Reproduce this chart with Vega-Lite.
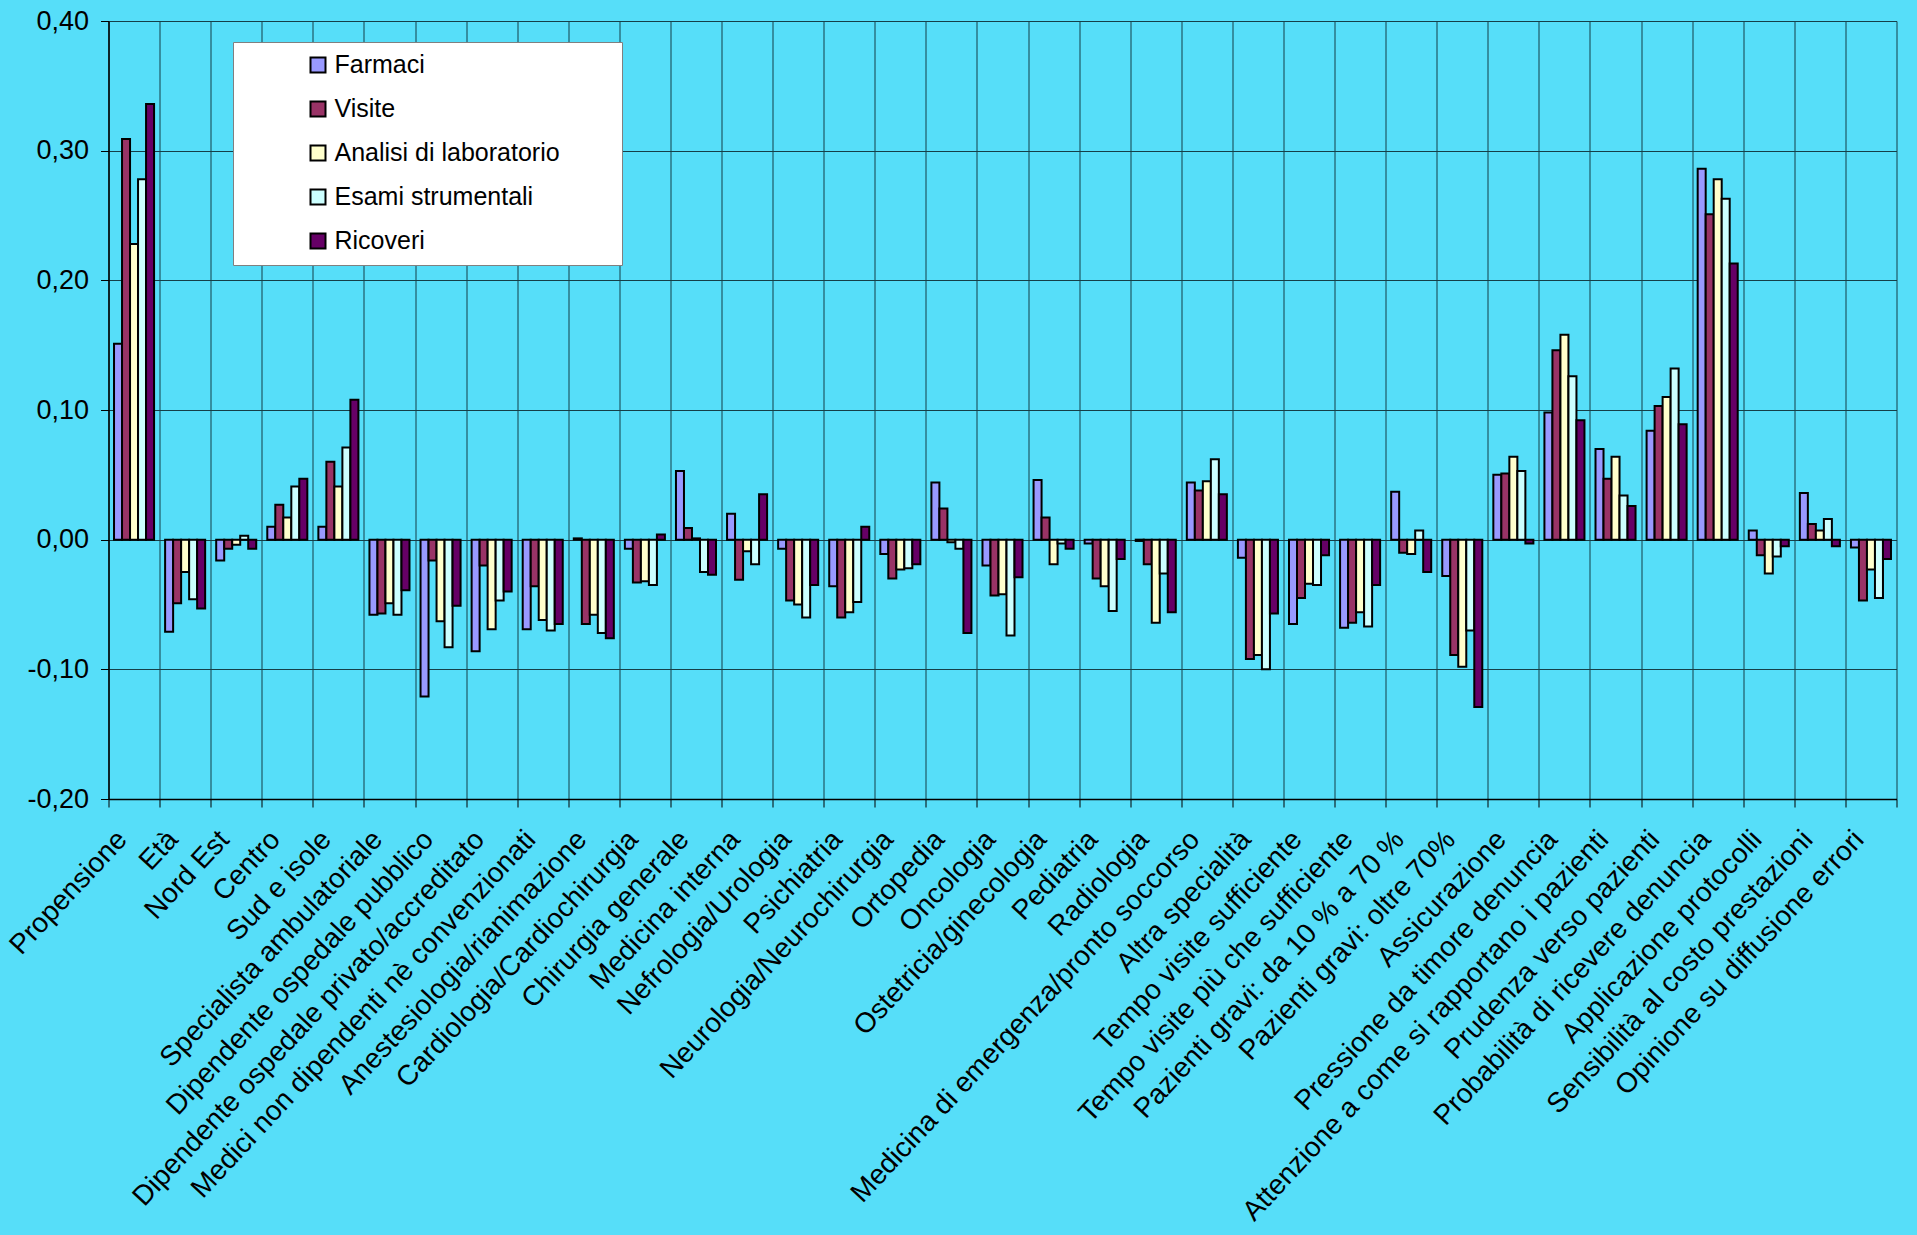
{
  "$schema": "https://vega.github.io/schema/vega-lite/v6.json",
  "autosize": {"type": "none"},
  "padding": {"left": 108.5, "top": 21, "right": 20, "bottom": 436},
  "width": 1788,
  "height": 778,
  "background": "#56DEF9",
  "config": {
    "view": {"stroke": null},
    "font": "Liberation Sans",
    "axis": {"labelFont": "Liberation Sans", "labelColor": "#000000", "domainColor": "#000000", "tickColor": "#000000", "gridColor": "#153f48", "gridWidth": 1, "gridOpacity": 1}
  },
  "data": {
    "values": [
      {"c":"Propensione","s":"Farmaci","v":0.151},{"c":"Propensione","s":"Visite","v":0.309},{"c":"Propensione","s":"Analisi di laboratorio","v":0.228},{"c":"Propensione","s":"Esami strumentali","v":0.278},{"c":"Propensione","s":"Ricoveri","v":0.336},
      {"c":"Età","s":"Farmaci","v":-0.071},{"c":"Età","s":"Visite","v":-0.049},{"c":"Età","s":"Analisi di laboratorio","v":-0.025},{"c":"Età","s":"Esami strumentali","v":-0.046},{"c":"Età","s":"Ricoveri","v":-0.053},
      {"c":"Nord Est","s":"Farmaci","v":-0.016},{"c":"Nord Est","s":"Visite","v":-0.007},{"c":"Nord Est","s":"Analisi di laboratorio","v":-0.004},{"c":"Nord Est","s":"Esami strumentali","v":0.003},{"c":"Nord Est","s":"Ricoveri","v":-0.007},
      {"c":"Centro","s":"Farmaci","v":0.010},{"c":"Centro","s":"Visite","v":0.027},{"c":"Centro","s":"Analisi di laboratorio","v":0.017},{"c":"Centro","s":"Esami strumentali","v":0.041},{"c":"Centro","s":"Ricoveri","v":0.047},
      {"c":"Sud e isole","s":"Farmaci","v":0.010},{"c":"Sud e isole","s":"Visite","v":0.060},{"c":"Sud e isole","s":"Analisi di laboratorio","v":0.041},{"c":"Sud e isole","s":"Esami strumentali","v":0.071},{"c":"Sud e isole","s":"Ricoveri","v":0.108},
      {"c":"Specialista ambulatoriale","s":"Farmaci","v":-0.058},{"c":"Specialista ambulatoriale","s":"Visite","v":-0.057},{"c":"Specialista ambulatoriale","s":"Analisi di laboratorio","v":-0.049},{"c":"Specialista ambulatoriale","s":"Esami strumentali","v":-0.058},{"c":"Specialista ambulatoriale","s":"Ricoveri","v":-0.039},
      {"c":"Dipendente ospedale pubblico","s":"Farmaci","v":-0.121},{"c":"Dipendente ospedale pubblico","s":"Visite","v":-0.016},{"c":"Dipendente ospedale pubblico","s":"Analisi di laboratorio","v":-0.063},{"c":"Dipendente ospedale pubblico","s":"Esami strumentali","v":-0.083},{"c":"Dipendente ospedale pubblico","s":"Ricoveri","v":-0.051},
      {"c":"Dipendente ospedale privato/accreditato","s":"Farmaci","v":-0.086},{"c":"Dipendente ospedale privato/accreditato","s":"Visite","v":-0.020},{"c":"Dipendente ospedale privato/accreditato","s":"Analisi di laboratorio","v":-0.069},{"c":"Dipendente ospedale privato/accreditato","s":"Esami strumentali","v":-0.047},{"c":"Dipendente ospedale privato/accreditato","s":"Ricoveri","v":-0.040},
      {"c":"Medici non dipendenti nè convenzionati","s":"Farmaci","v":-0.069},{"c":"Medici non dipendenti nè convenzionati","s":"Visite","v":-0.036},{"c":"Medici non dipendenti nè convenzionati","s":"Analisi di laboratorio","v":-0.062},{"c":"Medici non dipendenti nè convenzionati","s":"Esami strumentali","v":-0.070},{"c":"Medici non dipendenti nè convenzionati","s":"Ricoveri","v":-0.065},
      {"c":"Anestesiologia/rianimazione","s":"Farmaci","v":0.001},{"c":"Anestesiologia/rianimazione","s":"Visite","v":-0.065},{"c":"Anestesiologia/rianimazione","s":"Analisi di laboratorio","v":-0.058},{"c":"Anestesiologia/rianimazione","s":"Esami strumentali","v":-0.072},{"c":"Anestesiologia/rianimazione","s":"Ricoveri","v":-0.076},
      {"c":"Cardiologia/Cardiochirurgia","s":"Farmaci","v":-0.007},{"c":"Cardiologia/Cardiochirurgia","s":"Visite","v":-0.033},{"c":"Cardiologia/Cardiochirurgia","s":"Analisi di laboratorio","v":-0.032},{"c":"Cardiologia/Cardiochirurgia","s":"Esami strumentali","v":-0.035},{"c":"Cardiologia/Cardiochirurgia","s":"Ricoveri","v":0.004},
      {"c":"Chirurgia generale","s":"Farmaci","v":0.053},{"c":"Chirurgia generale","s":"Visite","v":0.009},{"c":"Chirurgia generale","s":"Analisi di laboratorio","v":0.001},{"c":"Chirurgia generale","s":"Esami strumentali","v":-0.025},{"c":"Chirurgia generale","s":"Ricoveri","v":-0.027},
      {"c":"Medicina interna","s":"Farmaci","v":0.020},{"c":"Medicina interna","s":"Visite","v":-0.031},{"c":"Medicina interna","s":"Analisi di laboratorio","v":-0.009},{"c":"Medicina interna","s":"Esami strumentali","v":-0.019},{"c":"Medicina interna","s":"Ricoveri","v":0.035},
      {"c":"Nefrologia/Urologia","s":"Farmaci","v":-0.007},{"c":"Nefrologia/Urologia","s":"Visite","v":-0.047},{"c":"Nefrologia/Urologia","s":"Analisi di laboratorio","v":-0.050},{"c":"Nefrologia/Urologia","s":"Esami strumentali","v":-0.060},{"c":"Nefrologia/Urologia","s":"Ricoveri","v":-0.035},
      {"c":"Psichiatria","s":"Farmaci","v":-0.036},{"c":"Psichiatria","s":"Visite","v":-0.060},{"c":"Psichiatria","s":"Analisi di laboratorio","v":-0.056},{"c":"Psichiatria","s":"Esami strumentali","v":-0.048},{"c":"Psichiatria","s":"Ricoveri","v":0.010},
      {"c":"Neurologia/Neurochirurgia","s":"Farmaci","v":-0.011},{"c":"Neurologia/Neurochirurgia","s":"Visite","v":-0.030},{"c":"Neurologia/Neurochirurgia","s":"Analisi di laboratorio","v":-0.023},{"c":"Neurologia/Neurochirurgia","s":"Esami strumentali","v":-0.022},{"c":"Neurologia/Neurochirurgia","s":"Ricoveri","v":-0.019},
      {"c":"Ortopedia","s":"Farmaci","v":0.044},{"c":"Ortopedia","s":"Visite","v":0.024},{"c":"Ortopedia","s":"Analisi di laboratorio","v":-0.002},{"c":"Ortopedia","s":"Esami strumentali","v":-0.007},{"c":"Ortopedia","s":"Ricoveri","v":-0.072},
      {"c":"Oncologia","s":"Farmaci","v":-0.020},{"c":"Oncologia","s":"Visite","v":-0.043},{"c":"Oncologia","s":"Analisi di laboratorio","v":-0.042},{"c":"Oncologia","s":"Esami strumentali","v":-0.074},{"c":"Oncologia","s":"Ricoveri","v":-0.029},
      {"c":"Ostetricia/ginecologia","s":"Farmaci","v":0.046},{"c":"Ostetricia/ginecologia","s":"Visite","v":0.017},{"c":"Ostetricia/ginecologia","s":"Analisi di laboratorio","v":-0.019},{"c":"Ostetricia/ginecologia","s":"Esami strumentali","v":-0.003},{"c":"Ostetricia/ginecologia","s":"Ricoveri","v":-0.007},
      {"c":"Pediatria","s":"Farmaci","v":-0.003},{"c":"Pediatria","s":"Visite","v":-0.030},{"c":"Pediatria","s":"Analisi di laboratorio","v":-0.036},{"c":"Pediatria","s":"Esami strumentali","v":-0.055},{"c":"Pediatria","s":"Ricoveri","v":-0.015},
      {"c":"Radiologia","s":"Farmaci","v":-0.001},{"c":"Radiologia","s":"Visite","v":-0.019},{"c":"Radiologia","s":"Analisi di laboratorio","v":-0.064},{"c":"Radiologia","s":"Esami strumentali","v":-0.026},{"c":"Radiologia","s":"Ricoveri","v":-0.056},
      {"c":"Medicina di emergenza/pronto soccorso","s":"Farmaci","v":0.044},{"c":"Medicina di emergenza/pronto soccorso","s":"Visite","v":0.038},{"c":"Medicina di emergenza/pronto soccorso","s":"Analisi di laboratorio","v":0.045},{"c":"Medicina di emergenza/pronto soccorso","s":"Esami strumentali","v":0.062},{"c":"Medicina di emergenza/pronto soccorso","s":"Ricoveri","v":0.035},
      {"c":"Altra specialità","s":"Farmaci","v":-0.014},{"c":"Altra specialità","s":"Visite","v":-0.092},{"c":"Altra specialità","s":"Analisi di laboratorio","v":-0.089},{"c":"Altra specialità","s":"Esami strumentali","v":-0.100},{"c":"Altra specialità","s":"Ricoveri","v":-0.057},
      {"c":"Tempo visite sufficiente","s":"Farmaci","v":-0.065},{"c":"Tempo visite sufficiente","s":"Visite","v":-0.045},{"c":"Tempo visite sufficiente","s":"Analisi di laboratorio","v":-0.034},{"c":"Tempo visite sufficiente","s":"Esami strumentali","v":-0.035},{"c":"Tempo visite sufficiente","s":"Ricoveri","v":-0.012},
      {"c":"Tempo visite più che sufficiente","s":"Farmaci","v":-0.068},{"c":"Tempo visite più che sufficiente","s":"Visite","v":-0.064},{"c":"Tempo visite più che sufficiente","s":"Analisi di laboratorio","v":-0.056},{"c":"Tempo visite più che sufficiente","s":"Esami strumentali","v":-0.067},{"c":"Tempo visite più che sufficiente","s":"Ricoveri","v":-0.035},
      {"c":"Pazienti gravi: da 10 % a 70 %","s":"Farmaci","v":0.037},{"c":"Pazienti gravi: da 10 % a 70 %","s":"Visite","v":-0.010},{"c":"Pazienti gravi: da 10 % a 70 %","s":"Analisi di laboratorio","v":-0.011},{"c":"Pazienti gravi: da 10 % a 70 %","s":"Esami strumentali","v":0.007},{"c":"Pazienti gravi: da 10 % a 70 %","s":"Ricoveri","v":-0.025},
      {"c":"Pazienti gravi: oltre 70%","s":"Farmaci","v":-0.028},{"c":"Pazienti gravi: oltre 70%","s":"Visite","v":-0.089},{"c":"Pazienti gravi: oltre 70%","s":"Analisi di laboratorio","v":-0.098},{"c":"Pazienti gravi: oltre 70%","s":"Esami strumentali","v":-0.070},{"c":"Pazienti gravi: oltre 70%","s":"Ricoveri","v":-0.129},
      {"c":"Assicurazione","s":"Farmaci","v":0.050},{"c":"Assicurazione","s":"Visite","v":0.051},{"c":"Assicurazione","s":"Analisi di laboratorio","v":0.064},{"c":"Assicurazione","s":"Esami strumentali","v":0.053},{"c":"Assicurazione","s":"Ricoveri","v":-0.003},
      {"c":"Pressione da timore denuncia","s":"Farmaci","v":0.098},{"c":"Pressione da timore denuncia","s":"Visite","v":0.146},{"c":"Pressione da timore denuncia","s":"Analisi di laboratorio","v":0.158},{"c":"Pressione da timore denuncia","s":"Esami strumentali","v":0.126},{"c":"Pressione da timore denuncia","s":"Ricoveri","v":0.092},
      {"c":"Attenzione a come si rapportano i  pazienti","s":"Farmaci","v":0.070},{"c":"Attenzione a come si rapportano i  pazienti","s":"Visite","v":0.047},{"c":"Attenzione a come si rapportano i  pazienti","s":"Analisi di laboratorio","v":0.064},{"c":"Attenzione a come si rapportano i  pazienti","s":"Esami strumentali","v":0.034},{"c":"Attenzione a come si rapportano i  pazienti","s":"Ricoveri","v":0.026},
      {"c":"Prudenza verso pazienti","s":"Farmaci","v":0.084},{"c":"Prudenza verso pazienti","s":"Visite","v":0.103},{"c":"Prudenza verso pazienti","s":"Analisi di laboratorio","v":0.110},{"c":"Prudenza verso pazienti","s":"Esami strumentali","v":0.132},{"c":"Prudenza verso pazienti","s":"Ricoveri","v":0.089},
      {"c":"Probabilità di ricevere denuncia","s":"Farmaci","v":0.286},{"c":"Probabilità di ricevere denuncia","s":"Visite","v":0.251},{"c":"Probabilità di ricevere denuncia","s":"Analisi di laboratorio","v":0.278},{"c":"Probabilità di ricevere denuncia","s":"Esami strumentali","v":0.263},{"c":"Probabilità di ricevere denuncia","s":"Ricoveri","v":0.213},
      {"c":"Applicazione protocolli","s":"Farmaci","v":0.007},{"c":"Applicazione protocolli","s":"Visite","v":-0.012},{"c":"Applicazione protocolli","s":"Analisi di laboratorio","v":-0.026},{"c":"Applicazione protocolli","s":"Esami strumentali","v":-0.013},{"c":"Applicazione protocolli","s":"Ricoveri","v":-0.005},
      {"c":"Sensibilità al costo prestazioni","s":"Farmaci","v":0.036},{"c":"Sensibilità al costo prestazioni","s":"Visite","v":0.012},{"c":"Sensibilità al costo prestazioni","s":"Analisi di laboratorio","v":0.007},{"c":"Sensibilità al costo prestazioni","s":"Esami strumentali","v":0.016},{"c":"Sensibilità al costo prestazioni","s":"Ricoveri","v":-0.005},
      {"c":"Opinione su diffusione errori","s":"Farmaci","v":-0.006},{"c":"Opinione su diffusione errori","s":"Visite","v":-0.047},{"c":"Opinione su diffusione errori","s":"Analisi di laboratorio","v":-0.023},{"c":"Opinione su diffusione errori","s":"Esami strumentali","v":-0.045},{"c":"Opinione su diffusione errori","s":"Ricoveri","v":-0.015}
    ]
  },
  "mark": {"type": "bar", "stroke": "#000000", "strokeWidth": 2},
  "encoding": {
    "x": {
      "field": "c", "type": "nominal", "sort": null, "title": null,
      "scale": {"paddingInner": 0, "paddingOuter": 0},
      "axis": {
        "tickBand": "extent", "grid": true, "tickSize": 8, "domainWidth": 1.5,
        "labelAngle": -47, "labelAlign": "right", "labelBaseline": "middle",
        "labelFontSize": 28, "labelPadding": 28, "labelOffset": -12, "labelLimit": 0, "labelOverlap": false
      }
    },
    "xOffset": {
      "field": "s", "type": "nominal",
      "sort": ["Farmaci", "Visite", "Analisi di laboratorio", "Esami strumentali", "Ricoveri"],
      "scale": {"paddingInner": 0, "paddingOuter": 0.69}
    },
    "y": {
      "field": "v", "type": "quantitative", "title": null,
      "scale": {"domain": [-0.2, 0.4], "nice": false, "zero": true},
      "axis": {
        "values": [-0.2, -0.1, 0, 0.1, 0.2, 0.3, 0.4], "grid": true, "tickSize": 8, "domainWidth": 1.5,
        "labelFontSize": 27, "labelPadding": 12,
        "labelExpr": "(datum.value < -0.001 ? '-' : '') + replace(format(abs(datum.value), '.2f'), '.', ',')"
      }
    },
    "color": {
      "field": "s", "type": "nominal",
      "sort": ["Farmaci", "Visite", "Analisi di laboratorio", "Esami strumentali", "Ricoveri"],
      "scale": {
        "domain": ["Farmaci", "Visite", "Analisi di laboratorio", "Esami strumentali", "Ricoveri"],
        "range": ["#9999FF", "#993366", "#FFFFCC", "#CCFFFF", "#660066"]
      },
      "legend": {
        "orient": "none", "legendX": 124.5, "legendY": 21,
        "title": "\u00a0", "titleOrient": "right", "titlePadding": 52, "titleFontSize": 24,
        "fillColor": "#FFFFFF", "strokeColor": "#808080",
        "padding": 10.5, "symbolOffset": 62, "rowPadding": 18,
        "symbolType": "square", "symbolSize": 225, "symbolStrokeColor": "#000000", "symbolStrokeWidth": 2,
        "labelFont": "Liberation Sans", "labelFontSize": 25, "labelColor": "#000000", "labelOffset": 4, "labelLimit": 0
      }
    }
  }
}
